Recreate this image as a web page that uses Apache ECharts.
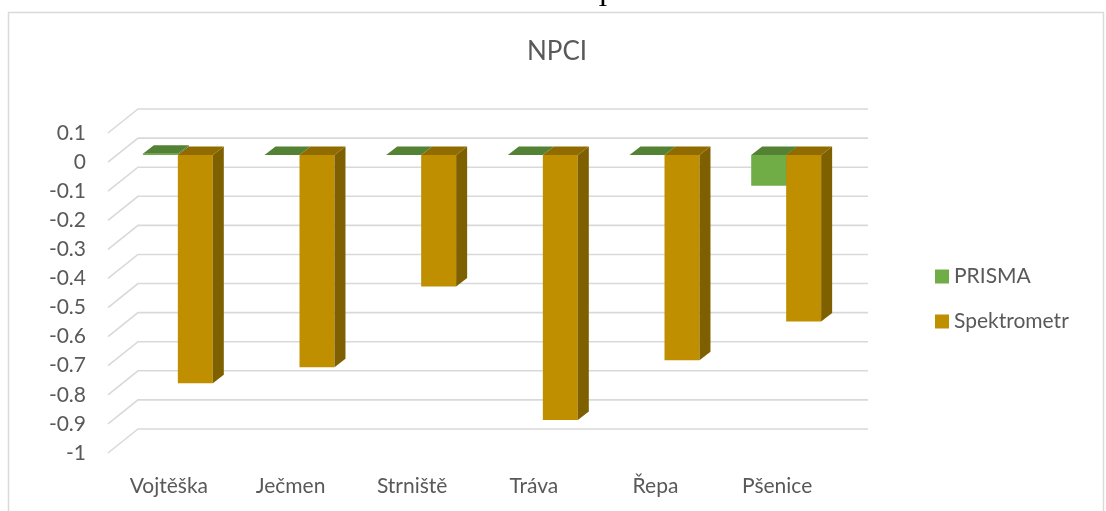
<!DOCTYPE html>
<html>
<head>
<meta charset="utf-8">
<script src="https://cdn.jsdelivr.net/npm/echarts@6/dist/echarts.min.js"></script>
<style>
  html, body { margin: 0; padding: 0; background: #ffffff; }
  #chart { width: 1106px; height: 511px; }
</style>
</head>
<body>
<div id="chart"></div>
<script>
// NPCI by crop type, measured with PRISMA and with a spectrometer
const categories = ['Vojtěška', 'Ječmen', 'Strniště', 'Tráva', 'Řepa', 'Pšenice'];
const prisma = [0.005, 0, 0, 0, 0, -0.105];
const spektrometr = [-0.784, -0.729, -0.452, -0.911, -0.705, -0.572];
const yTicks = [0.1, 0, -0.1, -0.2, -0.3, -0.4, -0.5, -0.6, -0.7, -0.8, -0.9, -1];

const FONT = 'Lato, "Open Sans", sans-serif';
const TEXT = '#595959';
const GRID = '#d9d9d9';

// oblique 3D projection: floor depth, bar plane and bar depth offsets (px)
const WALL = [30, -24];
const PLANE = [9, -7];
const DEPTH = [11, -8.5];
const BAR_FRACTION = 0.2875;

function gridRenderer(params, api) {
  const v = api.value(1);
  const y = api.coord([0, v])[1];
  const x0 = params.coordSys.x;
  const w = params.coordSys.width;
  return {
    type: 'polyline',
    shape: { points: [[x0, y], [x0 + WALL[0], y + WALL[1]], [x0 + WALL[0] + w, y + WALL[1]]] },
    style: { stroke: GRID, lineWidth: 1.6, fill: null }
  };
}

function barRenderer(slot, front, top, side) {
  return function (params, api) {
    const i = api.value(0);
    const v = api.value(1);
    const c0 = api.coord([i, 0]);
    const c1 = api.coord([i, v]);
    const band = api.size([1, 0])[0];
    const w = band * BAR_FRACTION;
    const xl = c0[0] + PLANE[0] - w + slot * w;
    const xr = xl + w;
    const yt = Math.min(c0[1], c1[1]) + PLANE[1];
    const yb = Math.max(c0[1], c1[1]) + PLANE[1];
    const dx = DEPTH[0], dy = DEPTH[1];
    return {
      type: 'group',
      children: [
        { type: 'polygon', shape: { points: [[xl, yt], [xr, yt], [xr, yb], [xl, yb]] }, style: { fill: front } },
        { type: 'polygon', shape: { points: [[xr, yt], [xr + dx, yt + dy], [xr + dx, yb + dy], [xr, yb]] }, style: { fill: side } },
        { type: 'polygon', shape: { points: [[xl, yt], [xr, yt], [xr + dx, yt + dy], [xl + dx, yt + dy]] }, style: { fill: top } }
      ]
    };
  };
}

const chart = echarts.init(document.getElementById('chart'), null, { renderer: 'canvas' });

chart.setOption({
  animation: false,
  backgroundColor: '#ffffff',
  title: {
    text: 'NPCI',
    left: 522,
    top: 34,
    textStyle: { fontFamily: FONT, fontSize: 26, fontWeight: 'normal', color: TEXT }
  },
  legend: {
    data: ['PRISMA', 'Spektrometr'],
    orient: 'vertical',
    left: 935,
    top: 265,
    padding: 0,
    itemWidth: 14,
    itemHeight: 14,
    itemGap: 22,
    icon: 'rect',
    textStyle: { fontFamily: FONT, fontSize: 21, color: TEXT, lineHeight: 23 }
  },
  grid: { left: 108, top: 133, width: 730, height: 320 },
  xAxis: {
    type: 'category',
    data: categories,
    axisLine: { show: false },
    axisTick: { show: false },
    splitLine: { show: false },
    axisLabel: { margin: 23, fontFamily: FONT, fontSize: 21, color: TEXT }
  },
  yAxis: {
    type: 'value',
    min: -1,
    max: 0.1,
    interval: 0.1,
    axisLine: { show: false },
    axisTick: { show: false },
    splitLine: { show: false },
    axisLabel: {
      margin: 22,
      fontFamily: FONT,
      fontSize: 21,
      color: TEXT,
      padding: [6, 0, 0, 0],
      formatter: function (v) { return String(Math.round(v * 10) / 10); }
    }
  },
  graphic: [
    {
      type: 'rect',
      shape: { x: 8.5, y: 12.5, width: 1095, height: 520 },
      style: { fill: null, stroke: '#d9d9d9', lineWidth: 1.5 },
      z: 0
    },
    {
      type: 'text',
      x: 603,
      y: 13,
      style: { text: 'I', font: '28px "Liberation Serif", serif', fill: '#000000', align: 'center', verticalAlign: 'bottom' }
    }
  ],
  series: [
    {
      name: 'gridlines',
      type: 'custom',
      silent: true,
      z: 1,
      data: yTicks.map(function (v) { return [0, v]; }),
      encode: { x: 0, y: 1 },
      renderItem: gridRenderer
    },
    {
      name: 'PRISMA',
      type: 'custom',
      z: 2,
      itemStyle: { color: '#70AD47' },
      data: prisma.map(function (v, i) { return [i, v]; }),
      encode: { x: 0, y: 1 },
      renderItem: barRenderer(0, '#70AD47', '#548235', '#4E7A31')
    },
    {
      name: 'Spektrometr',
      type: 'custom',
      z: 3,
      itemStyle: { color: '#BF8F00' },
      data: spektrometr.map(function (v, i) { return [i, v]; }),
      encode: { x: 0, y: 1 },
      renderItem: barRenderer(1, '#BF8F00', '#8F6B00', '#7F6000')
    }
  ]
});
</script>
</body>
</html>
